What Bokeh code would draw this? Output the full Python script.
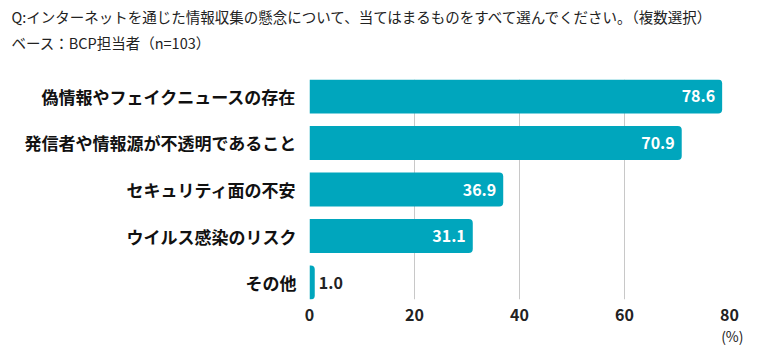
from bokeh.plotting import figure
from bokeh.models import ColumnDataSource, Range1d, FixedTicker, Title
from bokeh.core.properties import value
from bokeh.embed import file_html
from bokeh.resources import INLINE

# ---- data ----
categories = ["偽情報やフェイクニュースの存在", "発信者や情報源が不透明であること",
              "セキュリティ面の不安", "ウイルス感染のリスク", "その他"]
values = [78.6, 70.9, 36.9, 31.1, 1.0]
x_ticks = [0, 20, 40, 60, 80]
title_line1 = "Q:インターネットを通じた情報収集の懸念について、当てはまるものをすべて選んでください。（複数選択）"
title_line2 = "ベース：BCP担当者（n=103）"
unit_label = "(%)"

JP = "Noto Sans CJK JP"
BAR = "#00A6BD"

W, H = 764, 359
FL, FR, FT, FB = 309, 729, 79, 299  # frame edges in px
n = len(categories)
ypos = [n - 1 - i for i in range(n)]

src = ColumnDataSource(dict(y=ypos, v=values))
inside = ColumnDataSource(dict(
    y=[y for y, v in zip(ypos, values) if v >= 5],
    v=[v for v in values if v >= 5],
    lab=[f"{v:.1f}" for v in values if v >= 5]))
outside = ColumnDataSource(dict(
    y=[y for y, v in zip(ypos, values) if v < 5],
    v=[v for v in values if v < 5],
    lab=[f"{v:.1f}" for v in values if v < 5]))

p = figure(width=W, height=H, output_backend="svg", toolbar_location=None,
           x_range=Range1d(0, 80), y_range=Range1d(-0.365, n - 1 + 0.365),
           min_border_left=FL, min_border_right=W - FR,
           min_border_top=FT, min_border_bottom=H - FB)
p.outline_line_color = None
p.background_fill_color = "white"

p.hbar(y="y", right="v", left=0, height=0.73, source=src, fill_color=BAR,
       line_color=None, border_radius=(0, 4, 4, 0))

p.text(x="v", y="y", text="lab", source=inside, x_offset=-7, text_align="right",
       text_baseline="middle", text_color="white", text_font=value(JP),
       text_font_size="16px", text_font_style="bold")
p.text(x="v", y="y", text="lab", source=outside, x_offset=4, text_align="left",
       text_baseline="middle", text_color="#222222", text_font=value(JP),
       text_font_size="16px", text_font_style="bold")

# axes
p.xaxis.ticker = FixedTicker(ticks=x_ticks)
p.xaxis.axis_line_color = None
p.xaxis.major_tick_line_color = None
p.xaxis.minor_tick_line_color = None
p.xaxis.major_label_standoff = 3
p.xaxis.major_label_text_font = JP
p.xaxis.major_label_text_font_size = "16px"
p.xaxis.major_label_text_font_style = "bold"
p.xaxis.major_label_text_color = "#222222"

p.yaxis.ticker = FixedTicker(ticks=ypos)
p.yaxis.major_label_overrides = {y: c for y, c in zip(ypos, categories)}
p.yaxis.axis_line_color = None
p.yaxis.major_tick_line_color = None
p.yaxis.minor_tick_line_color = None
p.yaxis.major_label_standoff = 7
p.yaxis.major_label_text_font = JP
p.yaxis.major_label_text_font_size = "17px"
p.yaxis.major_label_text_font_style = "bold"
p.yaxis.major_label_text_color = "#111111"

p.xgrid.ticker = FixedTicker(ticks=x_ticks)
p.xgrid.grid_line_color = "#c8c8c8"
p.ygrid.grid_line_color = None

# header: two lines plus a blank spacer line, as one title
header = Title(text=title_line1 + "\n" + title_line2 + "\n ", align="left",
               offset=11 - FL, standoff=2, text_font=JP, text_font_size="14.5px",
               text_font_style="normal", text_color="#222222",
               text_line_height=1.23)
p.add_layout(header, "above")

tu = Title(text=unit_label, align="right", offset=-14, standoff=0,
           text_font=JP, text_font_size="14px", text_font_style="normal",
           text_color="#222222")
p.add_layout(tu, "below")

open("out.html", "w").write(file_html(p, INLINE))
